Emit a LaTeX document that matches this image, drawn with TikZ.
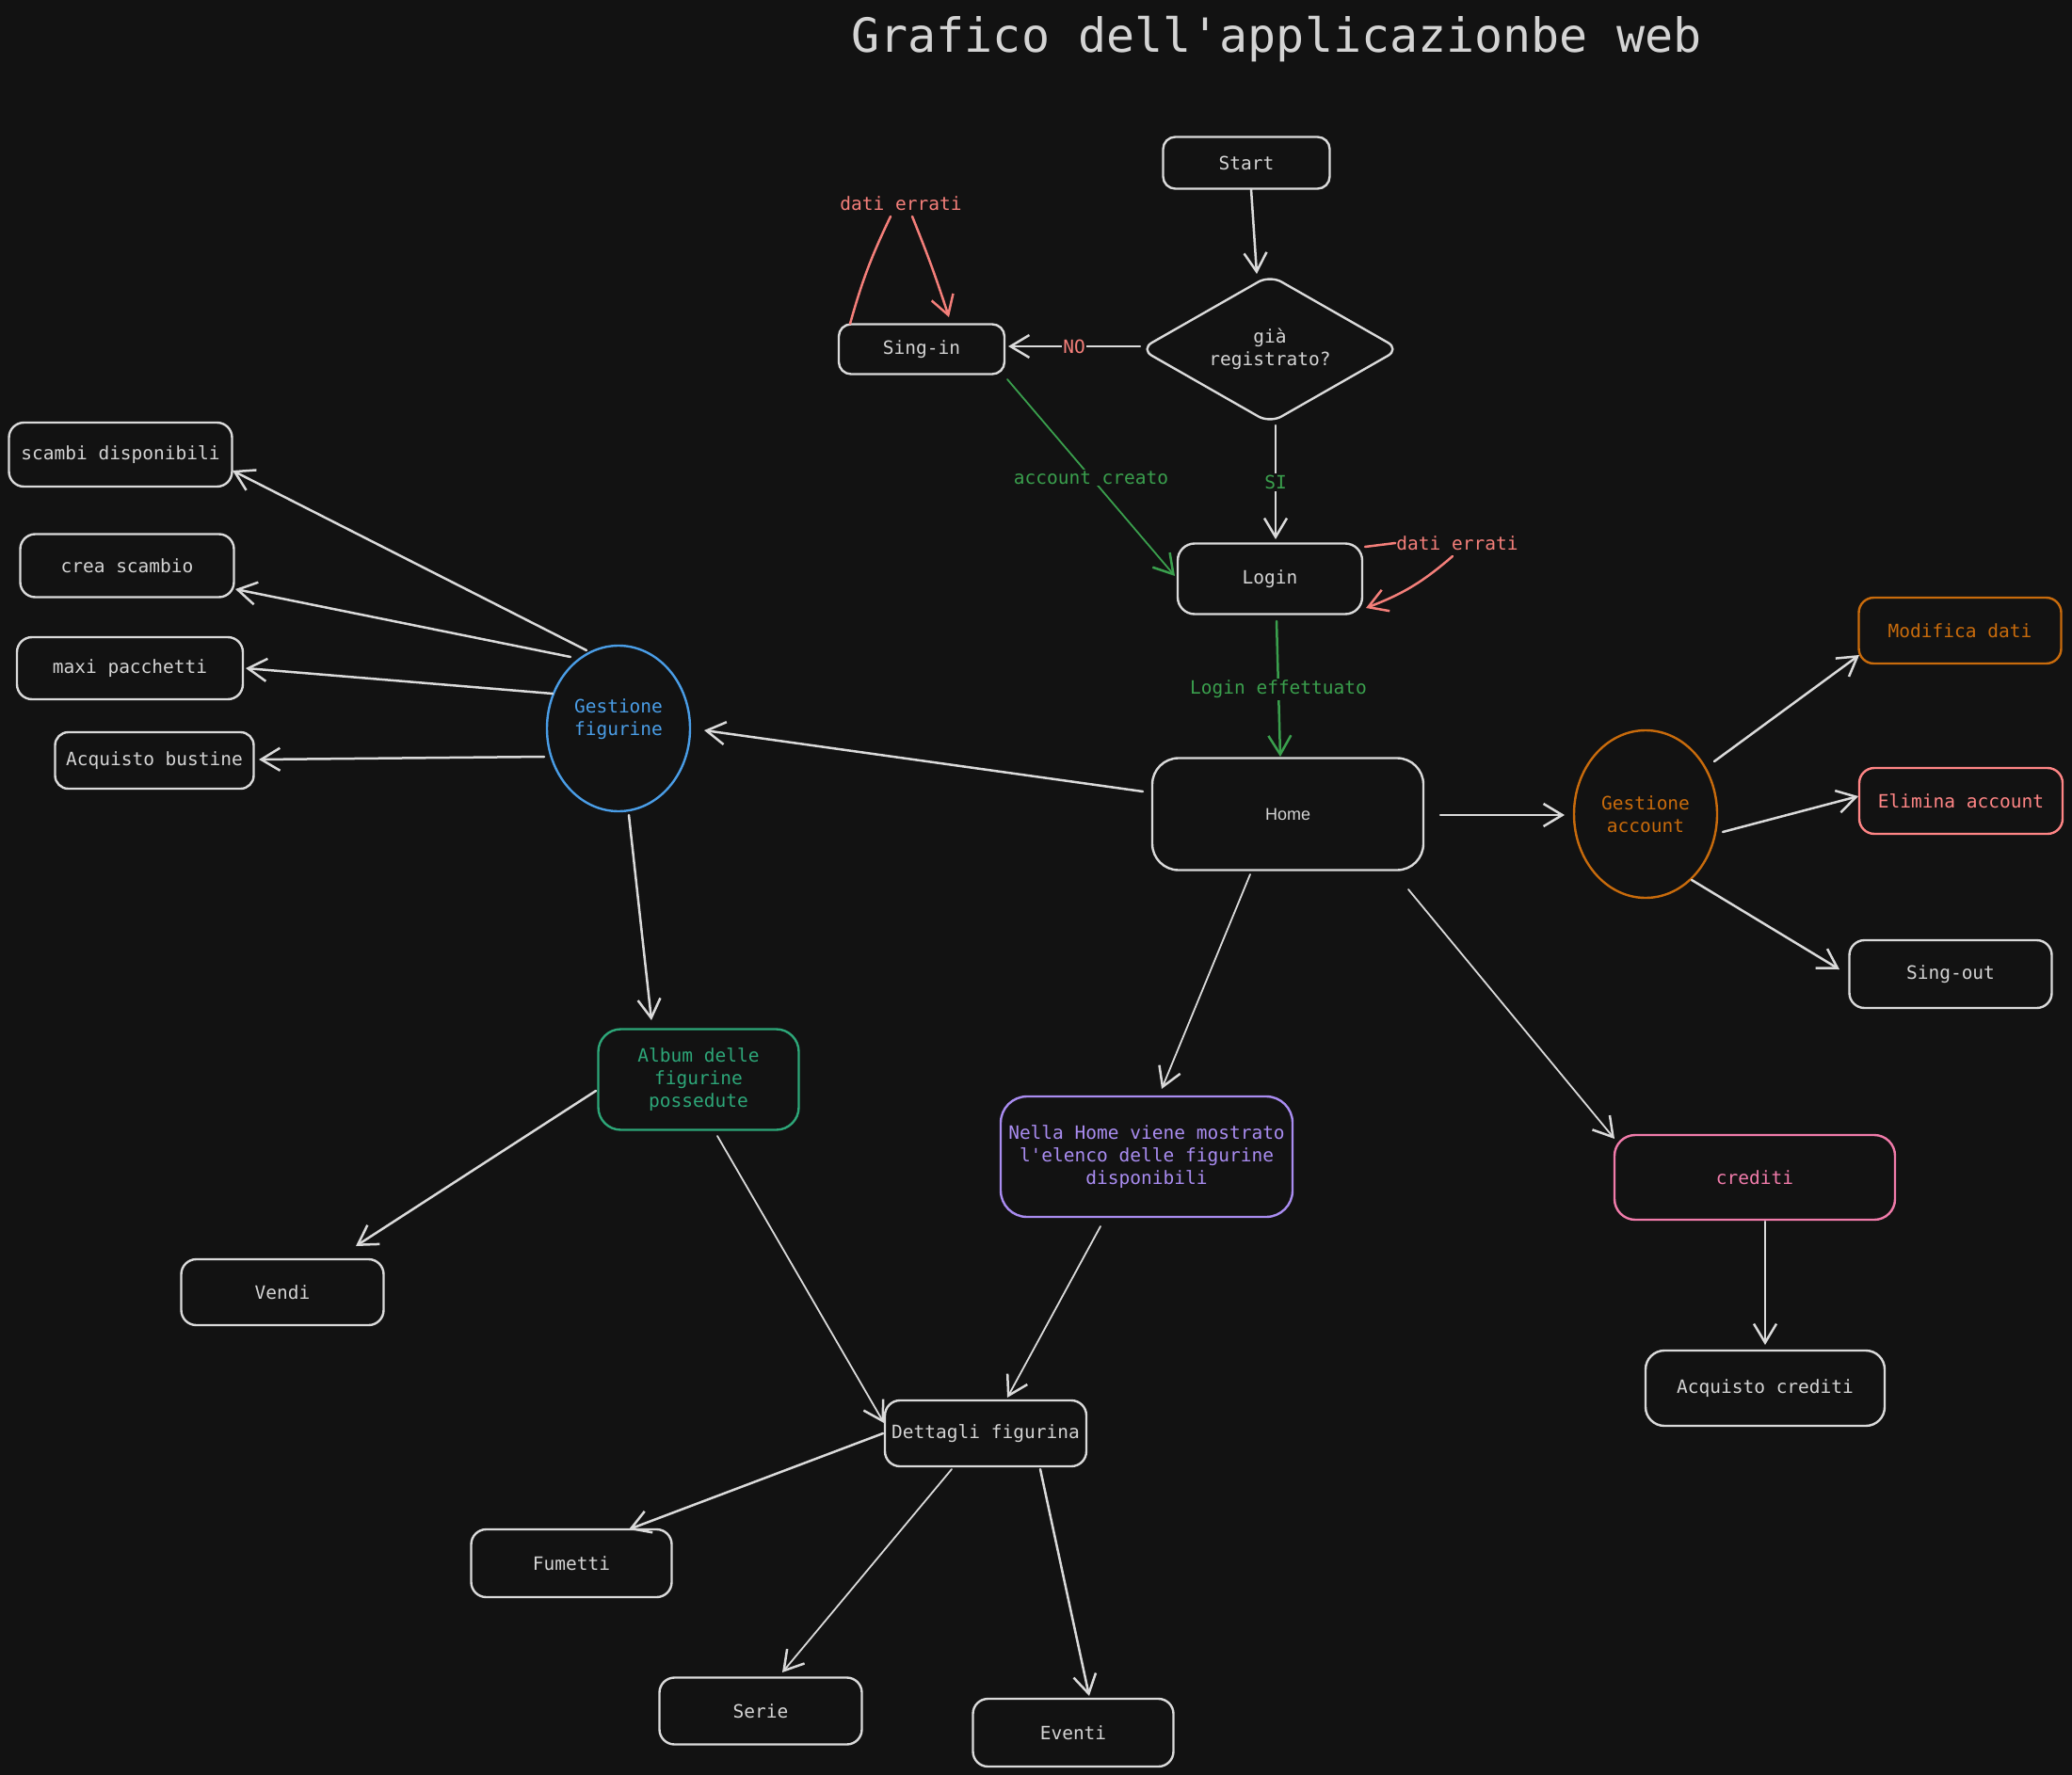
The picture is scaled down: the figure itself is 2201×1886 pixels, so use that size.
\documentclass[tikz,border=0pt]{standalone}
\usepackage{fontspec}
\setmainfont{DejaVu Sans}
\newfontfamily\monof{DejaVu Sans Mono}
\newfontfamily\homef{Liberation Sans}
\usetikzlibrary{shapes.geometric,arrows.meta,calc}
\definecolor{bg}{HTML}{121212}
\definecolor{fg}{HTML}{DADADA}
\definecolor{tx}{HTML}{D4D4D4}
\definecolor{cred}{HTML}{F47F7A}
\definecolor{cgreen}{HTML}{3A9F4D}
\definecolor{cblue}{HTML}{4A9DE6}
\definecolor{corange}{HTML}{C86B0C}
\definecolor{cteal}{HTML}{2DA678}
\definecolor{cpurple}{HTML}{A98CF0}
\definecolor{cpink}{HTML}{F07BAA}
\definecolor{cerr}{HTML}{FF8585}
\begin{document}
\begin{tikzpicture}[x=1pt,y=-1pt,
  txt/.style={font={\monof\fontsize{19.5pt}{24pt}\selectfont}},
  box/.style={txt,draw=fg,line width=2.4pt,rounded corners=16pt,text=tx,align=center,inner sep=0pt,fill=bg},
  ell/.style={txt,ellipse,line width=2.4pt,align=center,inner sep=0pt,fill=bg},
  lbl/.style={txt,inner sep=2pt,fill=bg},
  arr/.style={draw=fg,line width=2.5pt,line cap=round,-{Straight Barb[length=20pt,width=24pt,line width=2.5pt]}},
  thin/.style={line width=1.8pt}]
\fill[bg] (0,0) rectangle (2201,1886);
\useasboundingbox (0,0) rectangle (2201,1886);

\node[font={\monof\fontsize{50pt}{60pt}\selectfont},text=tx] (title) at (1356,42) {Grafico dell'applicazionbe web};

% nodes
\node[box,minimum width=177pt,minimum height=55pt,rounded corners=13pt] (start) at (1324,173) {Start};
\node[txt,diamond,aspect=1.74,minimum width=276pt,minimum height=158pt,draw=fg,line width=2.4pt,rounded corners=14pt,text=tx,align=center,inner sep=0pt,fill=bg] (diam) at (1349,371) {già\\registrato?};
\node[box,minimum width=176pt,minimum height=53pt,rounded corners=13pt] (singin) at (979,371) {Sing-in};
\node[box,minimum width=196pt,minimum height=75pt,rounded corners=18pt] (login) at (1349,615) {Login};
\node[box,minimum width=288pt,minimum height=119pt,rounded corners=28pt,font={\homef\fontsize{18pt}{22pt}\selectfont}] (home) at (1368,865) {Home};
\node[ell,draw=cblue,text=cblue,minimum width=152pt,minimum height=176pt,text depth=24pt] (gf) at (657,774) {Gestione\\figurine};
\node[box,minimum width=237pt,minimum height=68pt] (scambi) at (128,483) {scambi disponibili};
\node[box,minimum width=227pt,minimum height=67pt] (crea) at (135,601) {crea scambio};
\node[box,minimum width=240pt,minimum height=66pt] (maxi) at (138,710) {maxi pacchetti};
\node[box,minimum width=211pt,minimum height=60pt,rounded corners=14pt] (bustine) at (164,808) {Acquisto bustine};
\node[box,draw=cteal,text=cteal,minimum width=213pt,minimum height=107pt,rounded corners=24pt] (album) at (742,1147) {Album delle\\figurine\\possedute};
\node[box,minimum width=215pt,minimum height=70pt] (vendi) at (300,1373) {Vendi};
\node[box,draw=cpurple,text=cpurple,minimum width=310pt,minimum height=128pt,rounded corners=28pt] (nella) at (1218,1229) {Nella Home viene mostrato\\l'elenco delle figurine\\disponibili};
\node[box,draw=cpink,text=cpink,minimum width=298pt,minimum height=90pt,rounded corners=22pt] (crediti) at (1864,1251) {crediti};
\node[box,minimum width=254pt,minimum height=80pt,rounded corners=20pt] (acqcred) at (1875,1475) {Acquisto crediti};
\node[ell,draw=corange,text=corange,minimum width=152pt,minimum height=178pt] (ga) at (1748,865) {Gestione\\account};
\node[box,draw=corange,text=corange,minimum width=215pt,minimum height=70pt] (modifica) at (2082,670) {Modifica dati};
\node[box,draw=cerr,text=cerr,minimum width=216pt,minimum height=70pt] (elimina) at (2083,851) {Elimina account};
\node[box,minimum width=215pt,minimum height=72pt] (singout) at (2072,1035) {Sing-out};
\node[box,minimum width=214pt,minimum height=70pt] (dettagli) at (1047,1523) {Dettagli figurina};
\node[box,minimum width=213pt,minimum height=72pt] (fumetti) at (607,1661) {Fumetti};
\node[box,minimum width=215pt,minimum height=71pt] (serie) at (808,1818) {Serie};
\node[box,minimum width=213pt,minimum height=72pt] (eventi) at (1140,1841) {Eventi};

% label nodes for self loops
\node[txt,text=cred,inner sep=1pt] (err1) at (957,216) {dati errati};
\node[txt,text=cred,inner sep=1pt] (err2) at (1548,577) {dati errati};

% connectors
\draw[arr] ($(start)+(5,28)$) -- ($(diam)+(-14,-80)$);
\draw[arr] ($(diam)+(-138,-3)$) -- node[lbl,text=cred,inner sep=1pt] {NO} ($(singin)+(92,-3)$);
\draw[arr] ($(diam)+(6,81)$) -- node[lbl,text=cgreen] {SI} ($(login)+(6,-42)$);
\draw[arr,draw=cgreen,thin] ($(singin)+(91,32)$) -- node[lbl,text=cgreen] {account creato} ($(login)+(-101,-3)$);
\draw[draw=cred,line width=2.5pt,line cap=round] ($(singin)+(-76,-27)$) to[bend left=5] ($(err1)+(-11,14)$);
\draw[arr,draw=cred] ($(err1)+(12,14)$) to[bend left=2] ($(singin)+(29,-34)$);
\draw[draw=cred,line width=2.5pt,line cap=round] ($(login)+(101,-34)$) -- (err2.west);
\draw[arr,draw=cred] ($(err2)+(-5,14)$) to[bend left=10] ($(login)+(102,31)$);
\draw[arr,draw=cgreen] ($(login)+(7,45)$) -- node[lbl,text=cgreen] {Login effettuato} ($(home)+(-8,-61)$);

\draw[arr] ($(home)+(-154,-24)$) -- ($(gf)+(91,2)$);
\draw[arr] ($(home)+(162,1)$) -- ($(ga)+(-86,1)$);
\draw[arr,thin] ($(home)+(-40,64)$) -- ($(nella)+(16,-72)$);
\draw[arr,thin] ($(home)+(128,80)$) -- ($(crediti)+(-149,-41)$);

\draw[arr] ($(gf)+(-34,-83)$) -- ($(scambi)+(119,17)$);
\draw[arr] ($(gf)+(-51,-76)$) -- ($(crea)+(115,25)$);
\draw[arr] ($(gf)+(-70,-37)$) -- ($(maxi)+(123,0)$);
\draw[arr] ($(gf)+(-79,30)$) -- ($(bustine)+(111,-1)$);
\draw[arr] ($(gf)+(11,92)$) -- ($(album)+(-50,-63)$);

\draw[arr] ($(album)+(-109,12)$) -- ($(vendi)+(78,-49)$);
\draw[arr,thin] ($(album)+(20,60)$) -- ($(dettagli)+(-108,-11)$);
\draw[arr,thin] ($(nella)+(-49,74)$) -- ($(dettagli)+(23,-38)$);
\draw[arr] ($(crediti)+(11,47)$) -- ($(acqcred)+(0,-46)$);

\draw[arr] ($(ga)+(73,-56)$) -- ($(modifica)+(-107,26)$);
\draw[arr] ($(ga)+(82,19)$) -- ($(elimina)+(-109,-5)$);
\draw[arr] ($(ga)+(49,70)$) -- ($(singout)+(-118,-5)$);

\draw[arr] ($(dettagli)+(-109,0)$) -- ($(fumetti)+(61,-36)$);
\draw[arr,thin] ($(dettagli)+(-36,38)$) -- ($(serie)+(23,-41)$);
\draw[arr] ($(dettagli)+(58,38)$) -- ($(eventi)+(17,-39)$);
\end{tikzpicture}
\end{document}
